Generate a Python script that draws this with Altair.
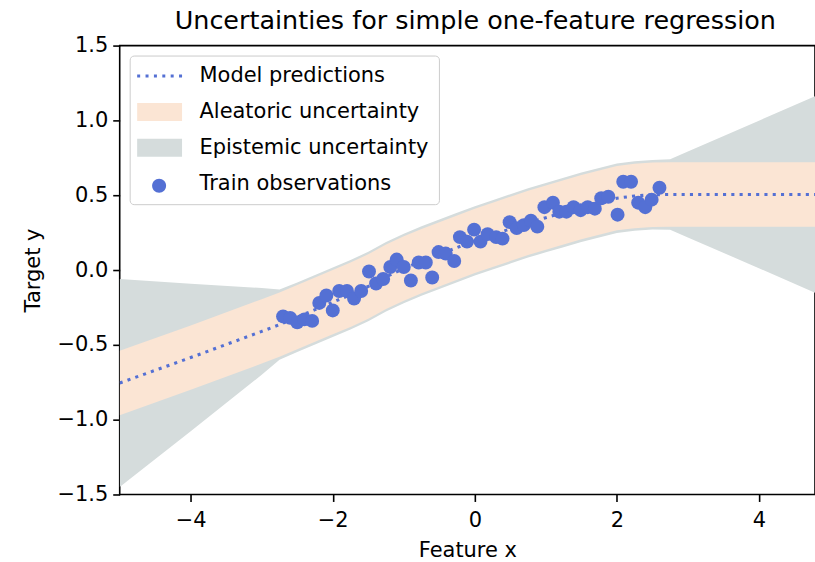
import altair as alt
import pandas as pd

# Training observations
obs_x = [-2.70, -2.60, -2.50, -2.40, -2.29, -2.19, -2.09, -2.00, -1.91, -1.80,
         -1.70, -1.60, -1.49, -1.39, -1.29, -1.19, -1.10, -1.00, -0.90, -0.79,
         -0.69, -0.60, -0.51, -0.41, -0.29, -0.21, -0.11, -0.01, 0.08, 0.18,
         0.30, 0.39, 0.49, 0.59, 0.69, 0.79, 0.88, 0.98, 1.10, 1.19,
         1.29, 1.39, 1.49, 1.59, 1.69, 1.78, 1.88, 2.01, 2.09, 2.20,
         2.30, 2.40, 2.49, 2.60]
obs_y = [-0.31, -0.32, -0.35, -0.33, -0.34, -0.22, -0.17, -0.27, -0.14, -0.14,
         -0.19, -0.14, -0.01, -0.09, -0.06, 0.02, 0.07, 0.02, -0.07, 0.05,
         0.05, -0.05, 0.12, 0.11, 0.06, 0.22, 0.19, 0.27, 0.19, 0.24,
         0.22, 0.21, 0.32, 0.28, 0.30, 0.33, 0.29, 0.42, 0.45, 0.39,
         0.39, 0.42, 0.40, 0.42, 0.41, 0.48, 0.49, 0.37, 0.59, 0.59,
         0.45, 0.42, 0.47, 0.55]

# Model output sampled along the feature axis
grid_x = [-5.0, -4.0, -3.0, -2.75, -2.5, -2.25, -2.0, -1.75, -1.5, -1.25,
          -1.0, -0.75, -0.5, -0.25, 0.0, 0.25, 0.5, 0.75, 1.0, 1.25,
          1.5, 1.75, 2.0, 2.25, 2.5, 2.75, 3.0, 4.0, 5.0]
pred_mean = [-0.755, -0.585, -0.41, -0.365, -0.315, -0.265, -0.215, -0.165, -0.11, -0.045,
             0.01, 0.06, 0.105, 0.15, 0.195, 0.235, 0.275, 0.315, 0.35, 0.385,
             0.42, 0.45, 0.48, 0.495, 0.503, 0.505, 0.505, 0.505, 0.505]
aleatoric_half = [0.215] * len(grid_x)
total_half = [0.695, 0.493, 0.29, 0.235, 0.232, 0.232, 0.232, 0.232, 0.232, 0.232,
              0.232, 0.232, 0.232, 0.232, 0.232, 0.232, 0.232, 0.232, 0.232, 0.232,
              0.232, 0.232, 0.232, 0.232, 0.232, 0.235, 0.287, 0.493, 0.70]

BLUE = "#5470d4"
PINK = "#fbe5d4"
GRAY = "#d5dcdc"
FONT = "DejaVu Sans"

legend_labels = ["Model predictions", "Aleatoric uncertainty",
                 "Epistemic uncertainty", "Train observations"]
legend_colors = [BLUE, PINK, GRAY, BLUE]


def dotted_path(centers, half):
    return " ".join(
        f"M{c - half:.2f},{-half:.2f}h{2 * half:.2f}v{2 * half:.2f}h{-2 * half:.2f}z"
        for c in centers
    )


legend_shapes = [
    dotted_path([-1.15, -0.31, 0.53, 1.37, 2.21, 3.05], 0.15),
    "M-1.3,-0.9H3.2V0.9H-1.3Z",
    "M-1.3,-0.9H3.2V0.9H-1.3Z",
    "M0.2,0.2A0.7,0.7,0,1,0,1.6,0.2A0.7,0.7,0,1,0,0.2,0.2Z",
]

curve = pd.DataFrame({"x": grid_x, "mean": pred_mean,
                      "ale": aleatoric_half, "tot": total_half})
obs = pd.DataFrame({"x": obs_x, "y": obs_y})
legend_df = pd.DataFrame({"label": legend_labels})

x_scale = alt.Scale(domain=[-5, 4.79], nice=False, zero=False)
y_scale = alt.Scale(domain=[-1.5, 1.5], nice=False, zero=False)

x_axis = alt.Axis(title="Feature x", values=[-4, -2, 0, 2, 4], format="d",
                  grid=False, domain=False, tickSize=7, tickWidth=1.6,
                  tickColor="black", labelPadding=8, titlePadding=9)
y_axis = alt.Axis(title="Target y", values=[-1.5, -1.0, -0.5, 0.0, 0.5, 1.0, 1.5],
                  format=".1f", grid=False, domain=False, tickSize=7,
                  tickWidth=1.6, tickColor="black", labelPadding=5,
                  titlePadding=13)

X = alt.X("x:Q", scale=x_scale, axis=x_axis)

base = alt.Chart(curve).transform_calculate(
    epi_lo="datum.mean - datum.tot",
    epi_hi="datum.mean + datum.tot",
    ale_lo="datum.mean - datum.ale",
    ale_hi="datum.mean + datum.ale",
)

epistemic = base.mark_area(color=GRAY, clip=True).encode(
    x=X, y=alt.Y("epi_lo:Q", scale=y_scale, axis=y_axis), y2="epi_hi:Q"
)
aleatoric = base.mark_area(color=PINK, clip=True).encode(
    x=X, y=alt.Y("ale_lo:Q", scale=y_scale, axis=y_axis), y2="ale_hi:Q"
)
mean_line = base.mark_line(color=BLUE, strokeWidth=3.1, strokeDash=[3.1, 5.2],
                           clip=True).encode(
    x=X, y=alt.Y("mean:Q", scale=y_scale, axis=y_axis)
)
points = alt.Chart(obs).mark_circle(color=BLUE, size=195, opacity=1).encode(
    x=X, y=alt.Y("y:Q", scale=y_scale, axis=y_axis)
)

legend = alt.Legend(
    title=None, orient="top-left", offset=10, padding=10,
    labelFont=FONT, labelFontSize=21, labelColor="black", labelOffset=39,
    labelLimit=400,
    symbolSize=400, symbolStrokeWidth=0, symbolOpacity=1, rowPadding=14,
    strokeColor="#cccccc", fillColor="white", cornerRadius=4,
)
legend_layer = alt.Chart(legend_df).mark_point(filled=True, opacity=0).encode(
    color=alt.Color("label:N", scale=alt.Scale(domain=legend_labels, range=legend_colors),
                    legend=legend),
    shape=alt.Shape("label:N", scale=alt.Scale(domain=legend_labels, range=legend_shapes),
                    legend=legend),
)

chart = alt.layer(epistemic, aleatoric, mean_line, points, legend_layer).properties(
    width=697,
    height=450,
    title=alt.TitleParams(
        "Uncertainties for simple one-feature regression",
        font=FONT, fontSize=25.5, fontWeight="normal", color="black",
        anchor="middle", dx=8, dy=22, baseline="alphabetic", offset=2,
    ),
    autosize=alt.AutoSizeParams(type="none"),
    padding={"left": 120, "top": 45, "right": 0, "bottom": 67},
).configure_view(
    stroke="black", strokeWidth=1.6
).configure_axis(
    labelFont=FONT, labelFontSize=21, labelColor="black",
    titleFont=FONT, titleFontSize=21, titleFontWeight="normal", titleColor="black",
)

chart.save("out.html", embed_options={"renderer": "svg", "actions": False})
